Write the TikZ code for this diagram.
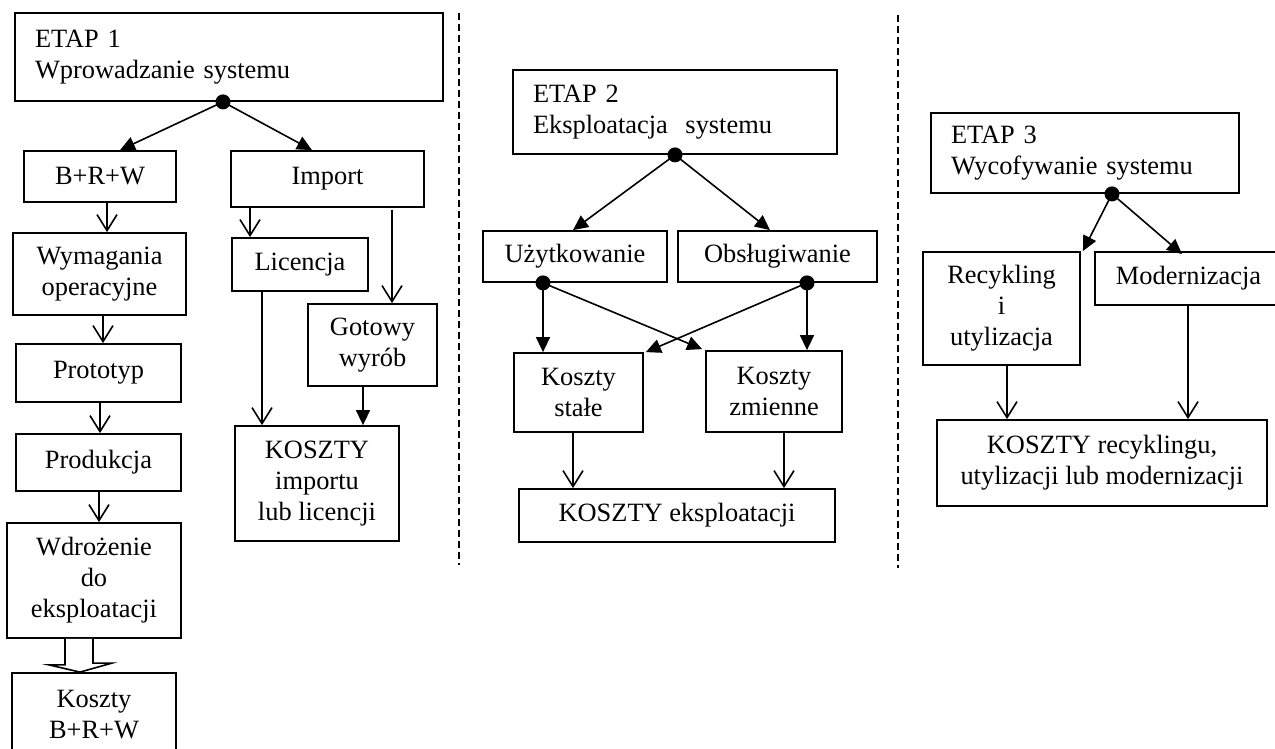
\documentclass[tikz,border=0pt]{standalone}
\usepackage{fontspec}
\setmainfont{Liberation Serif}
\usetikzlibrary{arrows.meta}

\tikzset{
  box/.style={draw, line width=1.8pt, inner sep=0pt, align=center,
    font=\fontsize{26.4}{31}\selectfont},
  etapbox/.style={box, align=left, inner xsep=20pt},
  dot/.style={circle, fill=black, inner sep=0pt, minimum size=15pt},
  arf/.style={line width=1.6pt, -{Triangle[length=15pt,width=14pt]}},
  aro/.style={line width=1.6pt, -{Straight Barb[length=16pt,width=20pt,line width=1.6pt]}},
  sep/.style={line width=1.6pt, dash pattern=on 7pt off 4pt},
}

\begin{document}
\begin{tikzpicture}[x=1pt, y=-1pt]
\useasboundingbox (0,0) rectangle (1275,749);
\fill[white] (0,0) rectangle (1275,749);
\clip (0,0) rectangle (1275,749);

% ---------- stage 1: introduction ----------
\node[etapbox, text width=388pt, minimum height=88pt] (e1) at (229,57) {ETAP 1\\Wprowadzanie systemu};
\node[box, minimum width=152pt, minimum height=51pt] (brw) at (100,176.5) {B+R+W};
\node[box, minimum width=193pt, minimum height=56pt] (imp) at (327.5,179) {Import};
\node[box, minimum width=173pt, minimum height=82pt] (wym) at (99.5,274) {Wymagania\\operacyjne};
\node[box, minimum width=136pt, minimum height=53pt] (lic) at (300,264.5) {Licencja};
\node[box, minimum width=129pt, minimum height=82pt] (got) at (372.5,345) {Gotowy\\wyrób};
\node[box, minimum width=165pt, minimum height=58pt] (pro) at (98.5,373) {Prototyp};
\node[box, minimum width=165pt, minimum height=57pt] (prd) at (98.5,462.5) {Produkcja};
\node[box, minimum width=164pt, minimum height=115pt] (kim) at (317,483.5) {KOSZTY\\importu\\lub licencji};
\node[box, minimum width=174pt, minimum height=115pt] (wdr) at (94,580.5) {Wdrożenie\\do\\eksploatacji};
\node[box, minimum width=164pt, minimum height=84pt] (kbrw) at (94,715) {Koszty\\B+R+W};

\node[dot] (d1) at ([xshift=-6pt]e1.south) {};
\draw[arf] (d1.center) -- ([xshift=20pt]brw.north);
\draw[arf] (d1.center) -- ([xshift=-15.5pt]imp.north);
\draw[aro] ([xshift=7pt]brw.south) -- ([xshift=7pt]brw.south |- wym.north);
\draw[aro] ([xshift=3.5pt]wym.south) -- ([xshift=3.5pt]wym.south |- pro.north);
\draw[aro] ([xshift=1.5pt]pro.south) -- ([xshift=1.5pt]pro.south |- prd.north);
\draw[aro] ([xshift=0.5pt]prd.south) -- ([xshift=0.5pt]prd.south |- wdr.north);
\draw[aro] ([xshift=-77.5pt]imp.south) -- ([xshift=-77.5pt]imp.south |- lic.north);
\draw[aro] ([xshift=64.5pt,yshift=-2pt]imp.south) -- ([xshift=64.5pt]imp.south |- got.north);
\draw[aro] ([xshift=-38pt]lic.south) -- ([xshift=-38pt]lic.south |- kim.north);
\draw[arf] ([xshift=-9.5pt]got.south) -- ([xshift=-9.5pt]got.south |- kim.north);

% hollow block arrow into the B+R+W costs
\coordinate (btip) at ([xshift=-14pt]kbrw.north);
\draw[line width=1.6pt, fill=white, line join=miter]
  ([xshift=-29pt]wdr.south) -- ++(0,26) -- ++(-16,0) -- (btip)
  -- ++(32,-9) -- ++(-19,0) -- ([xshift=-1pt]wdr.south);

% ---------- stage 2: operation ----------
\node[etapbox, text width=284pt, minimum height=84pt] (e2) at (675,112) {ETAP 2\\Eksploatacja\ \ systemu};
\node[box, minimum width=184pt, minimum height=51pt] (uz) at (575,256.5) {Użytkowanie};
\node[box, minimum width=199pt, minimum height=51pt] (ob) at (777.5,256.5) {Obsługiwanie};
\node[box, minimum width=129pt, minimum height=79pt] (ks) at (578.5,392.5) {Koszty\\stałe};
\node[box, minimum width=136pt, minimum height=81pt] (kz) at (774,391.5) {Koszty\\zmienne};
\node[box, minimum width=316pt, minimum height=53pt] (ke) at (677,515.5) {KOSZTY eksploatacji};

\node[dot] (d2) at (e2.south) {};
\node[dot] (du) at ([xshift=-32pt]uz.south) {};
\node[dot] (do) at ([xshift=29.5pt]ob.south) {};
\draw[arf] (d2.center) -- ([xshift=-2pt]uz.north);
\draw[arf] (d2.center) -- ([xshift=-7.5pt]ob.north);
\draw[arf] (du.center) -- (du.center |- ks.north);
\draw[arf] (du.center) -- ([xshift=-3pt,yshift=1pt]kz.north west);
\draw[arf] (do.center) -- ([xshift=2pt]ks.north east);
\draw[arf] (do.center) -- (do.center |- kz.north);
\draw[aro] ([xshift=-5.5pt]ks.south) -- ([xshift=-5.5pt]ks.south |- ke.north);
\draw[aro] ([xshift=10pt]kz.south) -- ([xshift=10pt]kz.south |- ke.north);

% ---------- stage 3: withdrawal ----------
\node[etapbox, text width=268pt, minimum height=80pt] (e3) at (1085,153) {ETAP 3\\Wycofywanie systemu};
\node[box, minimum width=157pt, minimum height=113pt] (rec) at (1001.5,308.5) {Recykling\\i\\utylizacja};
\node[box, minimum width=187pt, minimum height=53pt] (mod) at (1188.5,278.5) {Modernizacja};
\node[box, minimum width=330pt, minimum height=86pt] (kr) at (1102,463) {KOSZTY recyklingu,\\utylizacji lub modernizacji};

\node[dot] (d3) at ([xshift=27pt]e3.south) {};
\draw[arf] (d3.center) -- ([xshift=2pt]rec.north east);
\draw[arf] (d3.center) -- ([xshift=-6.5pt,yshift=-3pt]mod.north);
\draw[aro] ([xshift=5.5pt]rec.south) -- ([xshift=5.5pt]rec.south |- kr.north);
\draw[aro] ([xshift=-0.5pt]mod.south) -- ([xshift=-0.5pt]mod.south |- kr.north);

% ---------- stage separators ----------
\coordinate (s1a) at (459,13);
\coordinate (s1b) at (459,565);
\coordinate (s2a) at (898,15);
\coordinate (s2b) at (898,568);
\draw[sep] (s1a) -- (s1b);
\draw[sep] (s2a) -- (s2b);
\end{tikzpicture}
\end{document}
